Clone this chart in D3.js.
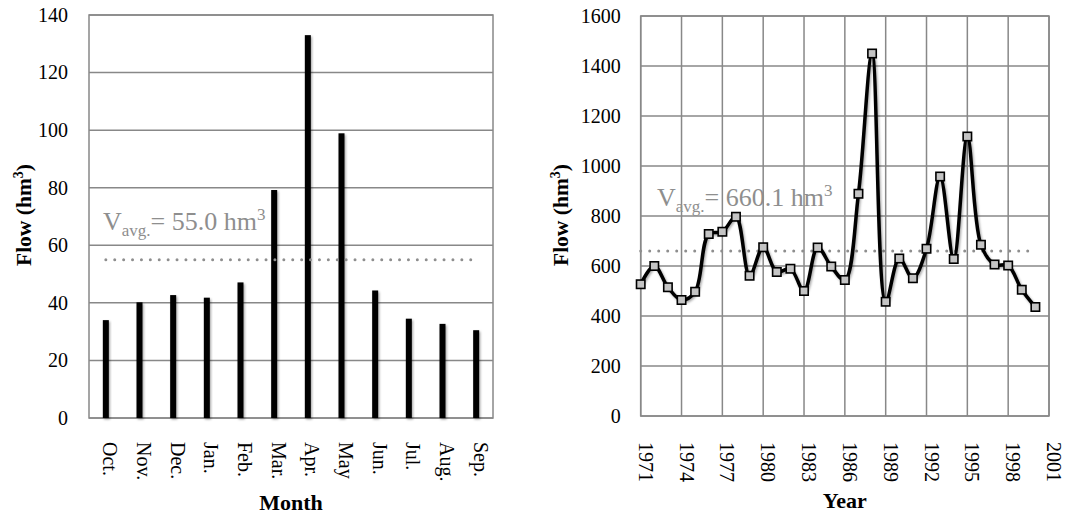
<!DOCTYPE html>
<html>
<head>
<meta charset="utf-8">
<script src="https://cdn.jsdelivr.net/npm/d3@7"></script>
<style>
  body { margin: 0; background: #fff; }
  text { font-family: "Liberation Serif", "Times New Roman", serif; }
</style>
</head>
<body>
<svg id="chart" width="1072" height="515"></svg>
<script>
// Mean monthly flow (hydrological year, Oct–Sep)
const months = ["Oct.", "Nov.", "Dec.", "Jan.", "Feb.", "Mar.", "Apr.", "May", "Jun.", "Jul.", "Aug.", "Sep."];
const monthlyFlow = [34.0, 40.2, 42.7, 41.8, 47.1, 79.2, 133.0, 98.9, 44.3, 34.5, 32.7, 30.5];
const monthlyAvg = 55.0;
const monthlyTicks = [0, 20, 40, 60, 80, 100, 120, 140];

// Annual flow, 1971–2000
const years = [1971, 1972, 1973, 1974, 1975, 1976, 1977, 1978, 1979, 1980,
               1981, 1982, 1983, 1984, 1985, 1986, 1987, 1988, 1989, 1990,
               1991, 1992, 1993, 1994, 1995, 1996, 1997, 1998, 1999, 2000];
const annualFlow = [527, 600, 515, 464, 497, 728, 737, 797, 561, 675,
                    576, 589, 500, 674, 598, 544, 889, 1450, 457, 630,
                    551, 669, 958, 628, 1118, 685, 606, 602, 505, 436];
const annualAvg = 660.1;
const annualTicks = [0, 200, 400, 600, 800, 1000, 1200, 1400, 1600];
const yearTicks = [1971, 1974, 1977, 1980, 1983, 1986, 1989, 1992, 1995, 1998, 2001];

const svg = d3.select("#chart");
svg.append("rect").attr("width", 1072).attr("height", 515).attr("fill", "#fff");

const GRID = "#888";
const AVG = "#8e8e8e";
const SERIF = '"Liberation Serif", "Times New Roman", serif';

const defs = svg.append("defs");
defs.append("filter").attr("id", "soft").attr("x", "-50%").attr("y", "-5%").attr("width", "200%").attr("height", "115%")
  .append("feDropShadow").attr("dx", 1.2).attr("dy", 1.5).attr("stdDeviation", 1.2)
  .attr("flood-color", "#000").attr("flood-opacity", 0.35);

// V_avg. = value hm³ annotation
function avgLabel(g, x, y, value) {
  const t = g.append("text").attr("x", x).attr("y", y).attr("fill", AVG).attr("font-size", 26);
  t.append("tspan").text("V");
  t.append("tspan").attr("font-size", 17).attr("dy", 6).text("avg.");
  t.append("tspan").attr("dy", -6).text("= " + value + " hm");
  t.append("tspan").attr("font-size", 17).attr("dy", -10).text("3");
}

// rotated "Flow (hm³)" title
function flowTitle(g, x, y) {
  const t = g.append("text").attr("transform", `translate(${x},${y}) rotate(-90)`)
    .attr("text-anchor", "middle").attr("font-size", 21.5).attr("font-weight", "bold").attr("fill", "#000");
  t.append("tspan").text("Flow (hm");
  t.append("tspan").attr("font-size", 14).attr("dy", -8).text("3");
  t.append("tspan").attr("dy", 8).text(")");
}

function styleTicks(sel) {
  sel.selectAll("text").style("font-family", SERIF).style("font-size", "20px").attr("fill", "#000");
}

// ---------- Monthly panel ----------
{
  const L = 89, R = 493, T = 15, B = 418;
  const g = svg.append("g");
  const x = d3.scaleBand().domain(months).range([L, R]);
  const y = d3.scaleLinear().domain([0, 140]).range([B, T]);

  g.selectAll("line.h").data(monthlyTicks).join("line")
    .attr("x1", L).attr("x2", R).attr("y1", d => y(d)).attr("y2", d => y(d))
    .attr("stroke", GRID).attr("stroke-width", 1.5);
  g.append("rect").attr("x", L).attr("y", T).attr("width", R - L).attr("height", B - T)
    .attr("fill", "none").attr("stroke", GRID).attr("stroke-width", 1.5);

  const ya = g.append("g").attr("transform", `translate(${L},0)`)
    .call(d3.axisLeft(y).tickValues(monthlyTicks).tickSize(0).tickPadding(21));
  ya.select(".domain").remove();
  styleTicks(ya);

  const xa = g.append("g").attr("transform", `translate(0,${B})`)
    .call(d3.axisBottom(x).tickSize(0));
  xa.select(".domain").remove();
  styleTicks(xa);
  xa.selectAll("text").attr("x", 0).attr("y", 0).attr("dy", null)
    .attr("transform", "translate(-2.6,24) rotate(90)").attr("text-anchor", "start");

  g.selectAll("rect.bar").data(monthlyFlow).join("rect").attr("class", "bar")
    .attr("x", (d, i) => x(months[i]) + x.bandwidth() / 2 - 3)
    .attr("width", 6)
    .attr("y", d => y(d)).attr("height", d => B - y(d))
    .attr("fill", "#000").attr("filter", "url(#soft)");

  g.append("line")
    .attr("x1", x(months[0]) + x.bandwidth() / 2).attr("x2", x(months[months.length - 1]) + x.bandwidth() / 2)
    .attr("y1", y(monthlyAvg)).attr("y2", y(monthlyAvg))
    .attr("stroke", AVG).attr("stroke-width", 3).attr("stroke-linecap", "round").attr("stroke-dasharray", "0,8.9");

  avgLabel(g, 103, 230, monthlyAvg.toFixed(1));
  flowTitle(g, 31, 215);
  g.append("text").attr("x", (L + R) / 2).attr("y", 510).attr("text-anchor", "middle")
    .attr("font-size", 22).attr("font-weight", "bold").text("Month");
}

// ---------- Annual panel ----------
{
  const L = 640.7, R = 1049, T = 16, B = 416;
  const g = svg.append("g");
  const x = d3.scaleLinear().domain([1971, 2001]).range([L, R]);
  const y = d3.scaleLinear().domain([0, 1600]).range([B, T]);

  g.selectAll("line.h").data(annualTicks).join("line")
    .attr("x1", L).attr("x2", R).attr("y1", d => y(d)).attr("y2", d => y(d))
    .attr("stroke", GRID).attr("stroke-width", 1.5);
  g.selectAll("line.v").data(yearTicks).join("line")
    .attr("y1", T).attr("y2", B).attr("x1", d => x(d)).attr("x2", d => x(d))
    .attr("stroke", GRID).attr("stroke-width", 1.5);
  g.append("rect").attr("x", L).attr("y", T).attr("width", R - L).attr("height", B - T)
    .attr("fill", "none").attr("stroke", GRID).attr("stroke-width", 1.5);

  const ya = g.append("g").attr("transform", `translate(${L},0)`)
    .call(d3.axisLeft(y).tickValues(annualTicks).tickFormat(d3.format("d")).tickSize(0).tickPadding(20));
  ya.select(".domain").remove();
  styleTicks(ya);

  const xa = g.append("g").attr("transform", `translate(0,${B})`)
    .call(d3.axisBottom(x).tickValues(yearTicks).tickFormat(d3.format("d")).tickSize(0));
  xa.select(".domain").remove();
  styleTicks(xa);
  xa.selectAll("text").attr("x", 0).attr("y", 0).attr("dy", null)
    .attr("transform", "translate(-2.5,26) rotate(90)").attr("text-anchor", "start");

  g.append("line")
    .attr("x1", x(years[0])).attr("x2", x(years[years.length - 1]))
    .attr("y1", y(annualAvg)).attr("y2", y(annualAvg))
    .attr("stroke", AVG).attr("stroke-width", 3).attr("stroke-linecap", "round").attr("stroke-dasharray", "0,9");

  avgLabel(g, 657, 206, annualAvg.toFixed(1));

  const pts = years.map((yr, i) => [x(yr), y(annualFlow[i])]);
  g.append("path").attr("d", d3.line().curve(d3.curveCatmullRom.alpha(0.5))(pts))
    .attr("fill", "none").attr("stroke", "#000").attr("stroke-width", 3.5).attr("stroke-linejoin", "round")
    .attr("filter", "url(#soft)");

  g.selectAll("rect.mk").data(pts).join("rect").attr("class", "mk")
    .attr("x", d => d[0] - 4.2).attr("y", d => d[1] - 4.2).attr("width", 8.4).attr("height", 8.4)
    .attr("fill", "#c4c4c4").attr("stroke", "#000").attr("stroke-width", 1.6);

  flowTitle(g, 568, 215);
  g.append("text").attr("x", (L + R) / 2).attr("y", 508).attr("text-anchor", "middle")
    .attr("font-size", 22).attr("font-weight", "bold").text("Year");
}
</script>
</body>
</html>
